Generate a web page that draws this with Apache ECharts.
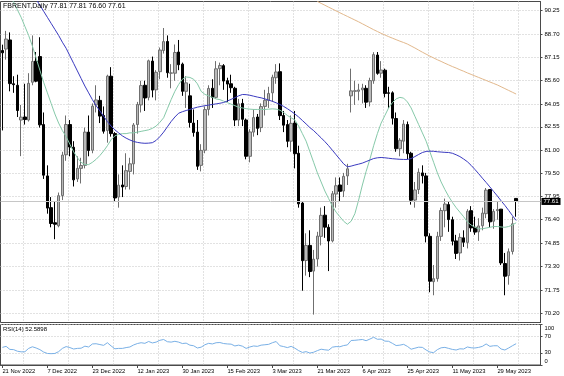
<!DOCTYPE html>
<html><head><meta charset="utf-8">
<script src="https://cdn.jsdelivr.net/npm/echarts@6/dist/echarts.min.js"></script>
<style>html,body{margin:0;padding:0;background:#fff}#c{width:564px;height:376px}</style>
</head><body><div id="c"></div>
<script>
const symbolName = 'FBRENT';
const timeframe = 'Daily';

const opens = [
87.60, 87.70, 88.30, 85.40, 85.30, 83.00, 83.20, 83.00, 85.50, 86.90,
87.20, 82.70, 79.30, 77.20, 76.20, 76.00, 78.00, 80.70, 82.70, 81.20,
79.10, 79.80, 80.00, 82.20, 81.00, 84.00, 84.30, 83.30, 82.30, 85.90,
82.10, 77.90, 78.70, 78.60, 79.60, 80.10, 82.70, 84.00, 85.30, 84.50,
86.90, 85.00, 86.20, 87.60, 88.20, 86.10, 86.10, 87.50, 86.70, 84.90,
84.60, 82.80, 82.20, 80.00, 81.00, 83.70, 85.10, 84.50, 86.40, 86.60,
85.60, 85.40, 85.10, 83.00, 84.10, 83.00, 80.60, 82.20, 83.20, 82.50,
83.90, 84.30, 84.80, 85.80, 86.20, 83.30, 82.70, 81.60, 82.80, 80.80,
77.50, 73.70, 74.70, 73.00, 73.80, 75.30, 76.70, 75.90, 75.00, 78.10,
78.70, 78.30, 79.30, 84.60, 84.90, 84.90, 85.00, 85.10, 84.20, 85.60,
87.30, 86.10, 86.30, 84.80, 84.80, 83.10, 81.10, 81.60, 82.70, 80.80,
77.70, 78.40, 79.50, 79.30, 75.30, 72.30, 72.50, 75.30, 77.00, 77.40,
76.40, 75.00, 74.20, 75.20, 74.90, 77.00, 75.90, 75.60, 76.00, 76.80,
78.40, 76.30, 77.00, 77.10, 73.50, 72.70, 74.30, 77.81
];
const highs = [
87.99, 88.90, 88.80, 85.90, 86.00, 84.00, 85.40, 86.10, 88.60, 87.50,
88.48, 83.50, 80.00, 77.90, 77.60, 78.20, 80.90, 83.30, 83.00, 81.60,
80.60, 80.50, 82.50, 83.30, 84.10, 85.30, 84.60, 83.90, 86.00, 86.50,
82.20, 79.40, 80.00, 80.80, 80.50, 82.80, 84.20, 85.60, 85.60, 87.00,
87.20, 86.30, 87.80, 89.09, 88.60, 86.70, 88.00, 88.30, 86.80, 85.90,
85.40, 83.70, 83.00, 81.40, 83.90, 85.30, 85.70, 86.90, 86.80, 86.70,
85.80, 86.00, 85.20, 84.40, 84.40, 83.10, 82.40, 83.70, 83.40, 84.10,
85.00, 85.20, 86.00, 86.70, 86.75, 83.60, 83.00, 83.30, 83.60, 81.30,
77.60, 75.50, 75.70, 74.40, 75.60, 77.20, 77.30, 76.10, 78.30, 79.20,
79.20, 79.50, 80.10, 86.40, 85.60, 85.40, 85.40, 85.30, 85.80, 87.49,
87.50, 86.90, 86.40, 85.20, 84.90, 83.50, 81.80, 83.00, 82.90, 80.90,
78.90, 79.80, 80.00, 79.50, 75.50, 73.40, 75.60, 77.20, 77.80, 77.60,
76.60, 75.40, 75.50, 75.70, 77.10, 77.30, 76.60, 76.50, 77.20, 78.50,
78.40, 77.10, 77.60, 77.10, 74.20, 74.50, 76.60, 77.81
];
const lows = [
82.31, 87.00, 84.90, 84.80, 83.20, 80.61, 82.70, 82.90, 85.30, 85.50,
82.50, 79.10, 76.80, 75.90, 75.11, 75.90, 77.70, 80.30, 80.60, 78.60,
78.90, 78.80, 79.80, 80.60, 80.80, 83.50, 82.80, 82.10, 81.50, 81.90,
77.60, 77.20, 77.90, 78.40, 78.40, 79.40, 82.10, 83.50, 83.60, 84.30,
84.50, 84.30, 85.70, 87.40, 85.80, 85.10, 85.60, 86.30, 84.60, 83.80,
82.50, 81.90, 79.70, 79.60, 80.80, 83.30, 83.80, 84.40, 85.30, 85.00,
84.20, 84.80, 82.60, 82.60, 82.60, 80.40, 80.20, 81.90, 82.00, 82.20,
83.30, 83.80, 84.20, 85.40, 83.00, 82.20, 81.20, 80.90, 79.80, 77.20,
71.70, 72.70, 72.60, 70.12, 73.30, 74.70, 75.20, 73.00, 74.90, 77.20,
77.60, 77.90, 78.70, 83.50, 84.00, 84.30, 84.10, 83.80, 83.90, 85.40,
86.00, 85.80, 84.50, 83.80, 82.70, 80.90, 80.60, 80.80, 80.40, 77.40,
77.20, 78.10, 78.80, 74.90, 71.60, 71.40, 72.30, 75.00, 75.90, 75.60,
74.70, 73.80, 73.70, 74.60, 74.50, 75.60, 75.40, 75.00, 75.70, 76.50,
75.90, 75.80, 76.40, 73.40, 71.40, 72.10, 74.10, 76.60
];
const closes = [
87.45, 88.36, 85.41, 85.34, 83.63, 83.19, 83.03, 85.43, 86.88, 85.57,
82.68, 79.35, 77.17, 76.15, 76.10, 77.99, 80.68, 82.70, 81.21, 79.04,
79.80, 79.99, 82.20, 80.98, 83.92, 84.33, 83.26, 82.26, 85.91, 82.10,
77.84, 78.69, 78.57, 79.65, 80.10, 82.67, 84.03, 85.28, 84.46, 86.92,
84.98, 86.16, 87.63, 88.19, 86.13, 86.12, 87.47, 86.66, 84.90, 85.46,
82.84, 82.17, 79.94, 80.99, 83.69, 85.09, 84.50, 86.39, 86.61, 85.58,
85.38, 85.14, 83.00, 84.07, 83.05, 80.60, 82.21, 83.16, 82.45, 83.89,
84.31, 84.75, 85.83, 86.18, 83.29, 82.66, 81.59, 82.78, 80.77, 77.45,
73.69, 74.70, 72.97, 73.79, 75.32, 76.69, 75.91, 74.99, 78.12, 78.65,
78.28, 79.27, 79.77, 84.93, 84.94, 84.99, 85.12, 84.18, 85.61, 87.33,
86.09, 86.31, 84.76, 84.77, 83.12, 81.10, 81.66, 82.73, 80.77, 77.69,
78.37, 79.54, 79.31, 75.32, 72.33, 72.50, 75.30, 77.01, 77.44, 76.41,
74.98, 74.17, 75.23, 74.91, 76.96, 75.86, 75.58, 75.99, 76.84, 78.36,
76.26, 76.95, 77.07, 73.54, 72.66, 74.28, 76.13, 77.61
];

const maBlue = [
93.6, 93.3, 93.0, 92.7, 92.4, 92.1, 91.8, 91.5, 91.25, 91.0,
90.6, 90.2, 89.8, 89.4, 89.0, 88.6, 88.15, 87.75, 87.25, 86.75,
86.25, 85.75, 85.25, 84.8, 84.35, 83.95, 83.6, 83.25, 82.9, 82.6,
82.35, 82.15, 81.95, 81.8, 81.68, 81.58, 81.52, 81.48, 81.46, 81.47,
81.5, 81.65, 81.9, 82.2, 82.55, 82.9, 83.2, 83.45, 83.55, 83.63,
83.7, 83.78, 83.85, 83.9, 83.95, 83.99, 84.03, 84.07, 84.11, 84.16,
84.26, 84.37, 84.48, 84.6, 84.69, 84.68, 84.64, 84.58, 84.52, 84.47,
84.4, 84.32, 84.24, 84.14, 84.03, 83.9, 83.75, 83.58, 83.4, 83.2,
82.97, 82.74, 82.5, 82.3, 82.06, 81.82, 81.57, 81.3, 81.0, 80.7,
80.4, 80.1, 79.9, 79.95, 80.02, 80.08, 80.15, 80.25, 80.35, 80.45,
80.5, 80.52, 80.5, 80.47, 80.44, 80.42, 80.4, 80.39, 80.39, 80.45,
80.58, 80.72, 80.85, 80.92, 80.94, 80.93, 80.9, 80.88, 80.86, 80.85,
80.8, 80.7, 80.58, 80.42, 80.24, 80.0, 79.73, 79.45, 79.15, 78.87,
78.57, 78.27, 77.97, 77.65, 77.35, 77.02, 76.68, 76.35
];
const maGreen = [
92.0, 91.6, 91.2, 90.8, 90.3, 89.8, 89.2, 88.6, 87.9, 87.1,
86.3, 85.5, 84.8, 84.1, 83.4, 82.8, 82.3, 81.9, 81.4, 80.9,
80.5, 80.2, 80.05, 80.05, 80.2, 80.4, 80.65, 80.95, 81.3, 81.7,
81.95, 82.05, 82.1, 82.1, 82.15, 82.15, 82.2, 82.25, 82.3, 82.35,
82.45, 82.6, 82.85, 83.15, 83.75, 84.35, 84.9, 85.35, 85.7, 85.85,
85.82, 85.7, 85.4, 84.9, 84.7, 84.6, 84.5, 84.4, 84.35, 84.25,
84.15, 84.05, 83.95, 83.85, 83.8, 83.75, 83.72, 83.7, 83.7, 83.7,
83.7, 83.72, 83.74, 83.72, 83.65, 83.5, 83.3, 83.15, 83.0, 82.6,
82.1, 81.6, 80.9, 80.2, 79.5, 78.9, 78.3, 77.8, 77.3, 76.9,
76.6, 76.3, 76.1, 76.3, 76.8, 77.7, 78.7, 79.6, 80.4, 81.3,
82.1, 82.8, 83.3, 83.8, 84.15, 84.4, 84.5, 84.45, 84.2, 83.8,
83.25, 82.7, 82.15, 81.6, 80.9, 80.2, 79.5, 78.9, 78.4, 77.95,
77.55, 77.2, 76.9, 76.6, 76.25, 76.05, 75.9, 75.8, 75.8, 75.85,
75.9, 75.95, 75.95, 75.92, 75.9, 75.95, 76.05, 76.2
];
const maOrangeStart = 84;
const maOrange = [
90.85, 90.72, 90.60, 90.47, 90.35, 90.22, 90.10, 89.98, 89.86, 89.74,
89.62, 89.50, 89.37, 89.24, 89.11, 88.98, 88.86, 88.74, 88.63, 88.52,
88.42, 88.32, 88.22, 88.13, 88.03, 87.90, 87.77, 87.63, 87.49, 87.36,
87.23, 87.11, 86.99, 86.88, 86.76, 86.65, 86.54, 86.44, 86.33, 86.23,
86.12, 86.02, 85.92, 85.82, 85.72, 85.62, 85.52, 85.42, 85.32, 85.20,
85.08, 84.96, 84.84, 84.72
];
const rsi14 = [
43.5, 46.0, 38.5, 38.0, 34.0, 32.5, 32.7, 41.0, 45.0, 42.0,
38.0, 32.0, 28.5, 28.0, 28.5, 33.0, 41.0, 45.5, 43.0, 39.5,
41.0, 41.5, 46.5, 44.5, 52.0, 52.5, 50.5, 48.5, 55.0, 47.0,
40.0, 41.0, 41.0, 43.0, 44.5, 49.5, 53.0, 55.0, 53.5, 58.0,
54.5, 56.5, 61.0, 63.0, 57.5, 56.5, 58.5, 56.5, 53.0, 54.0,
49.0, 47.5, 42.0, 44.0, 50.0, 53.5, 52.0, 55.0, 55.5, 53.0,
52.0, 51.5, 47.0, 49.0, 46.5, 41.0, 44.5, 47.0, 46.0, 49.0,
50.0, 51.0, 55.0, 58.0, 47.5, 45.5, 43.0, 46.0, 41.5, 35.5,
31.0, 33.0, 29.5, 31.5, 35.5, 39.0, 37.5, 36.5, 44.0, 45.5,
45.0, 48.0, 49.5, 60.5, 61.0, 62.0, 63.0, 60.0, 64.0, 68.5,
63.5, 64.0, 59.0, 58.5, 53.5, 48.0, 49.0, 51.0, 46.0, 39.0,
41.5, 44.0, 43.5, 37.0, 32.0, 30.5, 38.0, 42.5, 43.5, 41.0,
38.5, 37.0, 40.0, 39.5, 44.5, 42.5, 42.0, 43.5, 46.0, 52.0,
46.0, 47.5, 47.5, 39.5, 37.0, 42.0, 47.5, 52.5898
];

const dateLabels = ['21 Nov 2022','7 Dec 2022','23 Dec 2022','12 Jan 2023','30 Jan 2023','15 Feb 2023',
  '3 Mar 2023','21 Mar 2023','6 Apr 2023','25 Apr 2023','11 May 2023','29 May 2023'];
const dateLabelStep = 12;
const priceTicks = [90.25, 88.70, 87.15, 85.60, 84.05, 82.55, 81.00, 79.50, 77.95, 76.40, 74.85, 73.30, 71.75, 70.20];
const rsiTicks = [0, 30, 70, 100];
const slotCount = 144;

const FONT = '"Liberation Sans", Arial, sans-serif';
const n = closes.length;
const last = n - 1;
const cats = Array.from({length: slotCount}, (_, i) => String(i));
const candles = opens.map((o, i) => [o, closes[i], lows[i], highs[i]]);
const orangeData = maOrange.map((v, k) => [maOrangeStart + k, v]);

const dotted = {color: '#c4c4c4', type: [1, 2], width: 1};
const isLabel = (i) => i % dateLabelStep === 0 && (i / dateLabelStep) < dateLabels.length;

const chart = echarts.init(document.getElementById('c'), null, {renderer: 'canvas'});
chart.setOption({
  animation: false,
  backgroundColor: '#ffffff',
  title: [
    {text: symbolName + ',' + timeframe + ' ' + [opens[last], highs[last], lows[last], closes[last]].map(v => v.toFixed(2)).join(' '),
     left: 3, top: 3, padding: 0,
     textStyle: {fontFamily: FONT, fontSize: 7, fontWeight: 'normal', color: '#000'}},
    {text: 'RSI(14) ' + rsi14[last].toFixed(4),
     left: 3, top: 326.5, padding: 0,
     textStyle: {fontFamily: FONT, fontSize: 6, fontWeight: 'normal', color: '#000'}}
  ],
  grid: [
    {left: 0.5, top: 1.5, width: 540, height: 321, show: true, borderColor: '#4a4a4a', borderWidth: 1, containLabel: false, outerBoundsMode: 'none'},
    {left: 0.5, top: 324.5, width: 540, height: 40.5, show: true, borderColor: '#4a4a4a', borderWidth: 1, containLabel: false, outerBoundsMode: 'none'}
  ],
  xAxis: [
    {type: 'category', gridIndex: 0, data: cats, boundaryGap: true,
     axisLine: {show: false}, axisTick: {show: false}, axisLabel: {show: false},
     splitLine: {show: true, interval: (i) => i % dateLabelStep === 6, lineStyle: dotted}},
    {type: 'category', gridIndex: 1, data: cats, boundaryGap: true, position: 'bottom',
     axisLine: {show: true, lineStyle: {color: '#4a4a4a', width: 1}},
     axisTick: {show: true, interval: (i) => isLabel(i), alignWithLabel: true, length: 3, lineStyle: {color: '#4a4a4a'}},
     axisLabel: {show: true, interval: (i) => isLabel(i), formatter: (v, i) => dateLabels[Math.round(i / dateLabelStep)],
       align: 'left', margin: 3, fontFamily: FONT, fontSize: 5.8, color: '#000'},
     splitLine: {show: true, interval: (i) => i % dateLabelStep === 6, lineStyle: dotted}}
  ],
  yAxis: [
    {type: 'value', gridIndex: 0, position: 'right', min: 69.597, max: 90.846, scale: true,
     axisLine: {show: true, lineStyle: {color: '#4a4a4a', width: 1}},
     axisTick: {show: true, length: 2, customValues: priceTicks, lineStyle: {color: '#4a4a4a'}},
     axisLabel: {show: true, customValues: priceTicks, formatter: (v) => v.toFixed(2), margin: 4,
       fontFamily: FONT, fontSize: 6, color: '#000'},
     splitLine: {show: true, lineStyle: dotted}},
    {type: 'value', gridIndex: 1, position: 'right', min: 0, max: 100,
     axisLine: {show: true, lineStyle: {color: '#4a4a4a', width: 1}},
     axisTick: {show: true, length: 2, customValues: rsiTicks, lineStyle: {color: '#4a4a4a'}},
     axisLabel: {show: true, customValues: rsiTicks, margin: 4,
       formatter: (v) => v === 100 ? '{t|100}' : (v === 0 ? '{b|0}' : String(v)),
       rich: {t: {padding: [7, 0, 0, 0], fontFamily: FONT, fontSize: 5.8, color: '#000'},
              b: {padding: [0, 0, 8, 0], fontFamily: FONT, fontSize: 5.8, color: '#000'}},
       fontFamily: FONT, fontSize: 5.8, color: '#000'},
     splitLine: {show: true, lineStyle: dotted}}
  ],
  series: [
    {type: 'candlestick', xAxisIndex: 0, yAxisIndex: 0, data: candles, barWidth: 3, z: 2,
     itemStyle: {color: '#b9b9b9', color0: '#000000', borderColor: '#6f6f6f', borderColor0: '#000000', borderWidth: 1},
     markLine: {silent: true, symbol: 'none', animation: false,
       data: [{yAxis: closes[last]}],
       lineStyle: {color: '#c6c6c6', type: 'solid', width: 1},
       label: {show: true, position: 'end', distance: 1, formatter: closes[last].toFixed(2),
         color: '#fff', backgroundColor: '#000', padding: [1, 2, 0, 2], fontFamily: FONT, fontSize: 6}}},
    {type: 'line', xAxisIndex: 0, yAxisIndex: 0, data: maGreen, symbol: 'none', z: 3,
     lineStyle: {color: '#86c9a9', width: 1}},
    {type: 'line', xAxisIndex: 0, yAxisIndex: 0, data: maBlue, symbol: 'none', z: 3,
     lineStyle: {color: '#3a3ac0', width: 1}},
    {type: 'line', xAxisIndex: 0, yAxisIndex: 0, data: orangeData, symbol: 'none', z: 3,
     lineStyle: {color: '#e2b88c', width: 1}},
    {type: 'line', xAxisIndex: 1, yAxisIndex: 1, data: rsi14, symbol: 'none', z: 3,
     lineStyle: {color: '#79b0e6', width: 1}}
  ]
});
</script>
</body></html>
